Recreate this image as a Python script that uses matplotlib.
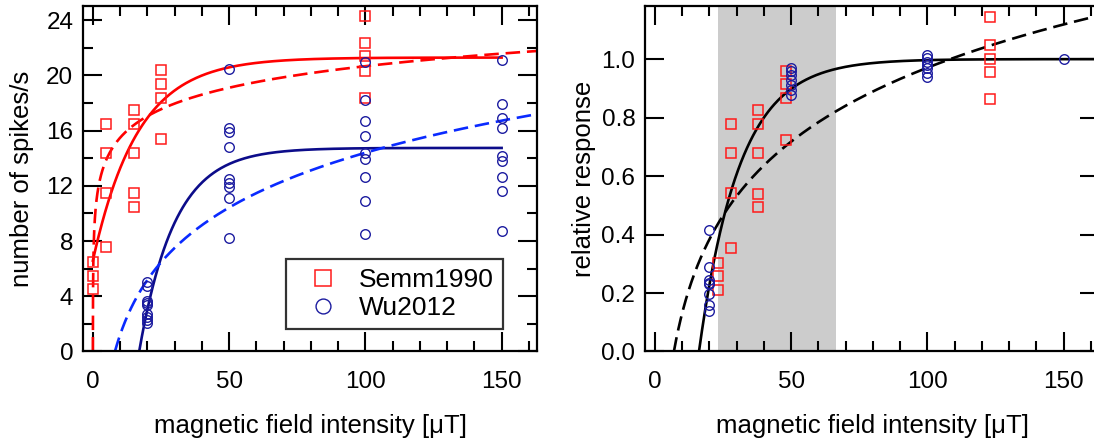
import numpy as np
import matplotlib.pyplot as plt
from matplotlib.ticker import MultipleLocator, FormatStrFormatter

plt.rcParams['font.family'] = ['Liberation Sans', 'DejaVu Sans']

# ---- left panel: spikes/s vs field ----
semm_x = [0, 5, 15, 25, 100]
semm_spikes = [
    [6.45, 5.45, 4.5],
    [16.5, 14.4, 11.5, 7.55],
    [17.5, 16.5, 14.4, 11.45, 10.45],
    [20.4, 19.4, 18.4, 15.4],
    [24.3, 22.35, 21.4, 20.35, 18.4],
]
wu_x = [20, 50, 100, 150]
wu_spikes = [
    [5.0, 4.75, 3.65, 3.5, 3.35, 2.75, 2.5, 2.25, 2.05],
    [20.45, 16.2, 15.9, 14.85, 12.5, 12.2, 11.9, 11.1, 8.25],
    [21.0, 18.25, 16.7, 15.65, 14.35, 13.95, 12.65, 10.9, 8.5],
    [21.1, 17.95, 16.9, 16.2, 14.2, 13.8, 12.65, 11.6, 8.75],
]

# ---- right panel: relative response ----
semm_rel_x = [23, 28, 38, 48, 123]
semm_rel = [
    [0.304, 0.257, 0.211],
    [0.778, 0.68, 0.541, 0.355],
    [0.826, 0.778, 0.678, 0.538, 0.493],
    [0.96, 0.914, 0.866, 0.723],
    [1.144, 1.049, 1.001, 0.957, 0.863],
]
wu_rel_x = [20, 50, 100, 150]
wu_rel = [
    [0.415, 0.29, 0.245, 0.235, 0.23, 0.195, 0.16, 0.14],
    [0.969, 0.958, 0.946, 0.929, 0.912, 0.895, 0.878],
    [1.015, 1.003, 0.991, 0.98, 0.969, 0.952, 0.938],
    [1.0],
]
shade_range = (23, 66.5)

# fit curves
# exponential: (plateau, onset, tau, x_end)   log: (slope, x_at_zero)
red_exp = (21.3, -6.1, 16.5, 150)
blue_exp = (14.75, 17.0, 13.0, 150)
red_log = (2.252, 0.0103)
blue_log = (5.73, 8.1)
rel_exp = (1.0, 16.2, 14.8, 163)
rel_log = (0.365, 7.0)

XMIN, XMAX = -3.6, 163

RED = '#ff1a1a'
NAVY = '#1c1ca0'
NAVY_LINE = '#0c0c8a'
BLUE_DASH = '#0a2aff'


def exp_curve(params, x_start):
    a, x0, tau, x_end = params
    x = np.linspace(max(x_start, x0), x_end, 400)
    return x, a * (1 - np.exp(-(x - x0) / tau))


def log_curve(params):
    a, x0 = params
    x = np.geomspace(x0, XMAX, 500)
    return x, a * np.log(x / x0)


def scatter_groups(ax, xs, groups, **kw):
    xx = np.concatenate([[x] * len(g) for x, g in zip(xs, groups)])
    yy = np.concatenate(groups)
    return ax.plot(xx, yy, linestyle='none', **kw)[0]


def style_axes(ax):
    for s in ax.spines.values():
        s.set_linewidth(1.6)
    ax.tick_params(which='both', direction='in', top=True, right=True, width=1.5)
    ax.tick_params(which='major', length=13.5, labelsize=17.5)
    ax.tick_params(which='minor', length=7.5)
    ax.tick_params(axis='x', pad=14)
    ax.tick_params(axis='y', pad=7)
    ax.xaxis.set_major_locator(MultipleLocator(50))
    ax.xaxis.set_minor_locator(MultipleLocator(10))
    ax.set_xlim(XMIN, XMAX)
    ax.set_xlabel('magnetic field intensity [\u03bcT]', fontsize=18.5, labelpad=15)


fig = plt.figure(figsize=(10.94, 4.42), dpi=100)
ax1 = fig.add_axes([0.0759, 0.2048, 0.415, 0.7805])
ax2 = fig.add_axes([0.5896, 0.2048, 0.415, 0.7805])

sq = dict(marker='s', markersize=7.6, markerfacecolor='none', markeredgecolor=RED, markeredgewidth=1.1)
ci = dict(marker='o', markersize=6.9, markerfacecolor='none', markeredgecolor=NAVY, markeredgewidth=1.0)
dash = (0, (5.5, 2.6))

# left
x, y = exp_curve(red_exp, 0)
ax1.plot(x, y, color='red', lw=1.9)
x, y = log_curve(red_log)
ax1.plot(x, y, color='red', lw=1.9, linestyle=dash)
x, y = exp_curve(blue_exp, 0)
ax1.plot(x, y, color=NAVY_LINE, lw=1.9)
x, y = log_curve(blue_log)
ax1.plot(x, y, color=BLUE_DASH, lw=1.9, linestyle=dash)
h1 = scatter_groups(ax1, semm_x, semm_spikes, label='Semm1990', **sq)
h2 = scatter_groups(ax1, wu_x, wu_spikes, label='Wu2012', **ci)

style_axes(ax1)
ax1.set_ylim(0, 25)
ax1.yaxis.set_major_locator(MultipleLocator(4))
ax1.yaxis.set_minor_locator(MultipleLocator(2))
ax1.set_ylabel('number of spikes/s', fontsize=18.5, labelpad=9)

leg = ax1.legend(handles=[h1, h2], loc='lower left', bbox_to_anchor=(0.447, 0.064),
                 borderaxespad=0, fontsize=19, markerscale=1.55, frameon=True, fancybox=False,
                 borderpad=0.35, handlelength=2.1, handletextpad=0.3, labelspacing=0.15)
leg.get_frame().set_edgecolor('black')
leg.get_frame().set_linewidth(1.6)

# right
ax2.axvspan(*shade_range, color='#cccccc', lw=0, zorder=0)
x, y = exp_curve(rel_exp, 0)
ax2.plot(x, y, color='black', lw=1.9)
x, y = log_curve(rel_log)
ax2.plot(x, y, color='black', lw=1.9, linestyle=dash)
scatter_groups(ax2, semm_rel_x, semm_rel, **sq)
scatter_groups(ax2, wu_rel_x, wu_rel, **ci)

style_axes(ax2)
ax2.set_ylim(0, 1.18)
ax2.yaxis.set_major_locator(MultipleLocator(0.2))
ax2.yaxis.set_major_formatter(FormatStrFormatter('%.1f'))
ax2.set_ylabel('relative response', fontsize=18.5, labelpad=4)

fig.savefig('out.png', dpi=100)
